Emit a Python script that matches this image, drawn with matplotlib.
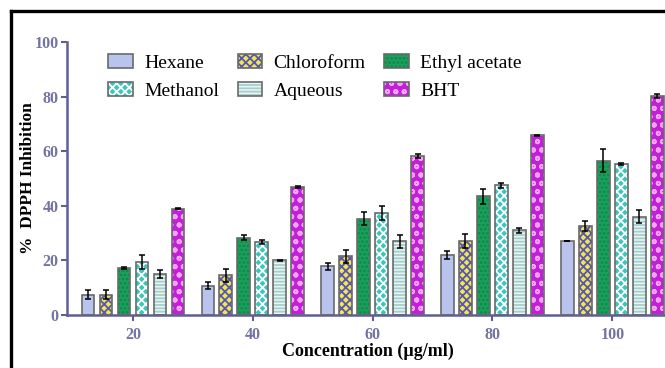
import matplotlib
matplotlib.use('Agg')
import numpy as np
import matplotlib.pyplot as plt
from matplotlib.lines import Line2D

# concentrations (ug/ml) and extracts
concentrations = [20, 40, 60, 80, 100]
extracts = ['Hexane', 'Chloroform', 'Ethyl acetate', 'Methanol', 'Aqueous', 'BHT']

# % DPPH inhibition
hexane = [7.5, 10.8, 17.8, 22.0, 27.2]
chloroform = [7.5, 14.5, 21.5, 27.0, 32.5]
ethyl_acetate = [17.2, 28.3, 35.3, 43.5, 56.5]
methanol = [19.5, 26.7, 37.3, 47.5, 55.3]
aqueous = [15.0, 20.0, 27.0, 31.0, 36.0]
bht = [39.0, 47.0, 58.2, 65.8, 80.2]

hexane_err = [1.5, 1.3, 1.3, 1.6, 0.0]
chloroform_err = [1.7, 2.5, 2.3, 2.6, 1.8]
ethyl_acetate_err = [0.5, 1.0, 2.3, 2.8, 4.3]
methanol_err = [2.5, 0.8, 2.5, 0.8, 0.5]
aqueous_err = [1.5, 0.3, 2.3, 0.8, 2.3]
bht_err = [0.3, 0.3, 0.7, 0.3, 0.6]

values = [hexane, chloroform, ethyl_acetate, methanol, aqueous, bht]
errors = [hexane_err, chloroform_err, ethyl_acetate_err, methanol_err, aqueous_err, bht_err]

# face colour, hatch, hatch colour
styles = [
    ('#b8c3ee', '', '#b8c3ee'),
    ('#efe84c', 'xxxx', '#5a53b8'),
    ('#19a05c', '....', '#12864a'),
    ('#38c6be', 'xxxx', '#ffffff'),
    ('#e6f8f6', '-----', '#a9cdcd'),
    ('#c21fd9', 'oo', '#f6a4f6'),
]

plt.rcParams['font.family'] = ['Liberation Serif', 'DejaVu Serif']
plt.rcParams['hatch.linewidth'] = 1.3

tick_color = '#7373a3'
spine_color = '#5f5f93'

fig = plt.figure(figsize=(6.65, 3.68), dpi=100)
ax = fig.add_axes([67 / 665, 53 / 368, 1 - 67 / 665, 273 / 368])

x = np.array(concentrations, dtype=float)
offsets = [-7.5, -4.5, -1.5, 1.5, 4.5, 7.5]
width = 2.1

handles = []
for name, vals, errs, off, (fc, hatch, hc) in zip(extracts, values, errors, offsets, styles):
    pos = x + off
    filled = ax.bar(pos, vals, width, color=fc, edgecolor=hc, hatch=hatch, linewidth=0, zorder=2)
    outline = ax.bar(pos, vals, width, fill=False, edgecolor='#6a6a6a', linewidth=1.2, zorder=3)
    ax.errorbar(pos, vals, yerr=errs, fmt='none', ecolor='black', elinewidth=1.1,
                capsize=2.5, capthick=1.1, zorder=4)
    handles.append((filled, outline))

ax.set_xlim(9.0, 108.8)
ax.set_ylim(0, 100)
ax.set_xticks(concentrations)
ax.set_yticks([0, 20, 40, 60, 80, 100])

for side in ['top', 'right']:
    ax.spines[side].set_visible(False)
for side in ['left', 'bottom']:
    ax.spines[side].set_color(spine_color)
    ax.spines[side].set_linewidth(1.8)

ax.tick_params(axis='both', colors=spine_color, width=1.5, length=4.5,
               labelcolor=tick_color, labelsize=11.5, pad=1.5)
ax.tick_params(axis='x', pad=4)
for lab in ax.get_xticklabels() + ax.get_yticklabels():
    lab.set_fontweight('bold')

ax.set_xlabel('Concentration (\u00b5g/ml)', fontsize=13, fontweight='bold')
ax.set_ylabel('%  DPPH Inhibition', fontsize=12.5, fontweight='bold')
ax.xaxis.set_label_coords(0.503, -0.10)
ax.yaxis.set_label_coords(-0.052, 0.5)

# legend rows: Hexane/Chloroform/Ethyl acetate, Methanol/Aqueous/BHT
order = [0, 3, 1, 4, 2, 5]
ax.legend([handles[i] for i in order], [extracts[i] for i in order], ncol=3,
          frameon=False, fontsize=14, loc='upper left',
          bbox_to_anchor=(0.04, 1.02), handlelength=1.25, handleheight=0.7,
          handletextpad=0.6, columnspacing=0.95, labelspacing=0.55)

# black frame around the figure (cut at right and bottom)
fig.add_artist(Line2D([11 / 665, 11 / 665], [0, 1 - 11 / 368], color='black', linewidth=2.4))
fig.add_artist(Line2D([11 / 665, 1], [1 - 11 / 368, 1 - 11 / 368], color='black', linewidth=2.4))

plt.savefig('out.png', dpi=100)
